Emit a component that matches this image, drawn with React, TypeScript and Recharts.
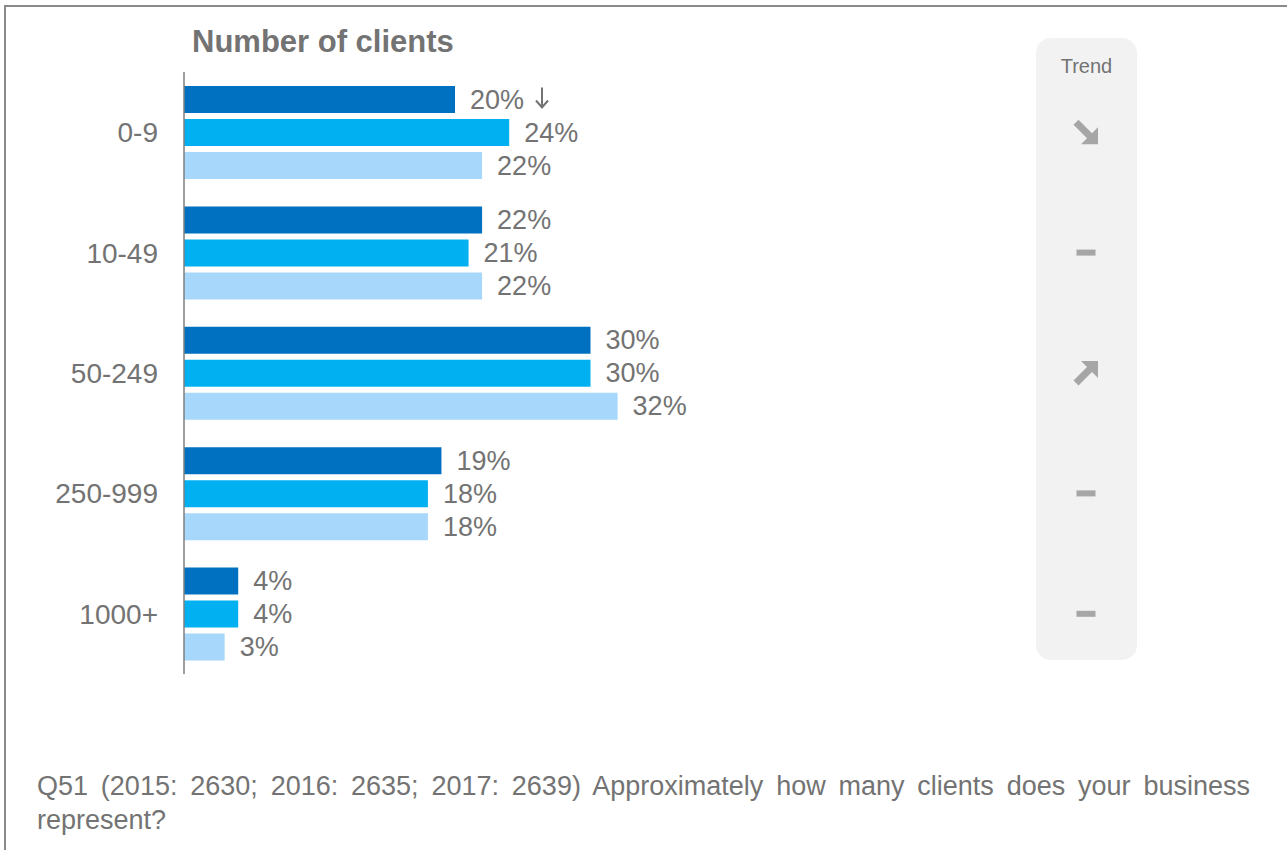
import { Bar, BarChart, LabelList, XAxis, YAxis } from "recharts";

// Client-count buckets, top to bottom
const categories = ["0-9", "10-49", "50-249", "250-999", "1000+"];
// Share of respondents (%) per year; darkest bar = latest year
const share2017 = [20, 22, 30, 19, 4];
const share2016 = [24, 21, 30, 18, 4];
const share2015 = [22, 22, 32, 18, 3];
// Significant change marker next to the 2017 value
const sig2017 = ["down", "", "", "", ""];
// Trend column
const trends = ["down", "flat", "up", "flat", "flat"];

const COLORS = { y2017: "#0070C0", y2016: "#00B0F0", y2015: "#A7D8FB" };
const INK = "#737373";
const ICON = "#A6A6A6";
const FONT = '"Liberation Sans", Arial, sans-serif';

const data = categories.map((cat, i) => ({
  cat,
  y2017: share2017[i],
  y2016: share2016[i],
  y2015: share2015[i],
}));

const valueLabel = (withSig: boolean) => (props: any) => {
  const { x, y, width, height, value, index } = props;
  const lx = Number(x) + Number(width) + 15;
  const cy = Number(y) + Number(height) / 2;
  const mark = withSig ? sig2017[index] : "";
  // thin arrow drawn after the text
  const ax = lx + 72;
  return (
    <g>
      <text x={lx} y={cy} fill={INK} fontSize={27} fontFamily={FONT} dominantBaseline="central">
        {`${value}%`}
      </text>
      {mark === "down" ? (
        <path
          d={`M${ax},${cy - 12} L${ax},${cy + 8} M${ax - 6},${cy + 1} L${ax},${cy + 8} L${ax + 6},${cy + 1}`}
          stroke={INK}
          strokeWidth={2}
          fill="none"
        />
      ) : null}
    </g>
  );
};

function TrendIcon({ kind }: { kind: string }) {
  if (kind === "flat") return <rect x={-9.5} y={-3} width={19} height={6} fill={ICON} />;
  const flip = kind === "up" ? -1 : 1;
  return (
    <g transform={`scale(1,${flip})`}>
      <line x1={-10} y1={-10} x2={4} y2={4} stroke={ICON} strokeWidth={7} />
      <polygon points="12,12 12,-5 -5,12" fill={ICON} />
    </g>
  );
}

const trendTick = (props: any) => {
  const { x, y, payload } = props;
  const kind = trends[categories.indexOf(payload.value)];
  return (
    <g transform={`translate(${Number(x) + 216.5},${y})`}>
      <TrendIcon kind={kind} />
    </g>
  );
};

export default function App() {
  return (
    <div
      style={{
        position: "absolute",
        left: 0,
        top: 0,
        width: 1287,
        height: 850,
        overflow: "hidden",
        background: "#fff",
        fontFamily: FONT,
      }}
    >
      <div
        style={{
          position: "absolute",
          left: 4,
          top: 5,
          width: 1400,
          height: 1000,
          border: "2px solid #8A8A8A",
        }}
      />
      <div
        style={{
          position: "absolute",
          left: 1036,
          top: 38,
          width: 101,
          height: 622,
          background: "#F2F2F2",
          borderRadius: 15,
        }}
      />
      <div
        style={{
          position: "absolute",
          left: 1036,
          top: 53,
          width: 101,
          textAlign: "center",
          fontSize: 20,
          color: INK,
          lineHeight: "26px",
        }}
      >
        Trend
      </div>
      <div
        style={{
          position: "absolute",
          left: 192,
          top: 23,
          fontSize: 31,
          fontWeight: "bold",
          color: INK,
          lineHeight: "38px",
        }}
      >
        Number of clients
      </div>
      <div style={{ position: "absolute", left: 0, top: 0 }}>
        <BarChart
          width={1287}
          height={850}
          data={data}
          layout="vertical"
          margin={{ top: 72, right: 125.5, bottom: 176, left: 84 }}
          barGap={6}
        >
          <XAxis type="number" domain={[0, 50]} hide />
          <YAxis
            yAxisId="main"
            type="category"
            dataKey="cat"
            width={100}
            tickLine={false}
            tickMargin={20}
            axisLine={{ stroke: "#7F7F7F", strokeWidth: 1.5 }}
            tick={{ fill: INK, fontSize: 28, fontFamily: FONT }}
          />
          <YAxis
            yAxisId="trend"
            orientation="right"
            type="category"
            dataKey="cat"
            width={300}
            tickLine={false}
            axisLine={false}
            tickMargin={2}
            tick={trendTick}
          />
          <Bar yAxisId="main" dataKey="y2017" fill={COLORS.y2017} barSize={27} isAnimationActive={false}>
            <LabelList dataKey="y2017" content={valueLabel(true)} />
          </Bar>
          <Bar yAxisId="main" dataKey="y2016" fill={COLORS.y2016} barSize={27} isAnimationActive={false}>
            <LabelList dataKey="y2016" content={valueLabel(false)} />
          </Bar>
          <Bar yAxisId="main" dataKey="y2015" fill={COLORS.y2015} barSize={27} isAnimationActive={false}>
            <LabelList dataKey="y2015" content={valueLabel(false)} />
          </Bar>
        </BarChart>
      </div>
      <div
        style={{
          position: "absolute",
          left: 37,
          top: 769,
          width: 1213,
          fontSize: 27,
          lineHeight: "34px",
          color: INK,
          textAlign: "justify",
        }}
      >
        Q51 (2015: 2630; 2016: 2635; 2017: 2639) Approximately how many clients does your business
        represent?
      </div>
    </div>
  );
}
